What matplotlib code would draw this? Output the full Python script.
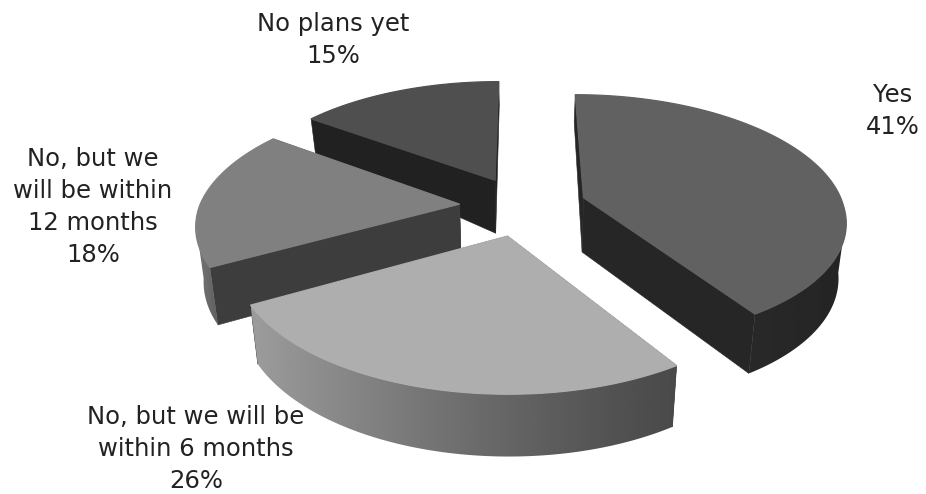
import numpy as np
import matplotlib
matplotlib.use('Agg')
import matplotlib.pyplot as plt
from matplotlib.patches import Polygon

labels = ['Yes', 'No, but we will be\nwithin 6 months', 'No, but we\nwill be within\n12 months', 'No plans yet']
values = [41, 26, 18, 15]

# colours of the slices: top face, flat side, curved side (light end, dark end)
top_colors = ['#616161', '#aeaeae', '#808080', '#4f4f4f']
side_colors = ['#262626', '#2e2e2e', '#3d3d3d', '#212121']
arc_light = [0x29, 0x9c, 0x78, 0x2a]
arc_dark = [0x25, 0x4a, 0x60, 0x24]
label_pos = [(893, 111), (196, 449), (93, 207), (333, 40)]

# pie projection
cx, cy = 523, 206
rx, ry = 260, 122
persp = 0.16
depth_persp = 0.024
explode = 0.245
front_lean = 4


def wall(v):
    return 56 + 30 * min(v + 0.2, 0)


def project(u, v, bottom=False):
    lean = front_lean * max(v, 0)
    if bottom:
        s = 1 / (1 - persp * v + depth_persp)
        return cx + lean + rx * u * s, cy + (ry * v + wall(v)) * s
    s = 1 / (1 - persp * v)
    return cx + lean + rx * u * s, cy + ry * v * s


fig = plt.figure(figsize=(9.26, 4.94), dpi=100)
ax = fig.add_axes([0, 0, 1, 1])

total = sum(values)
edges = np.cumsum([0] + values) / total * 2 * np.pi
slices = []
for i in range(len(values)):
    a0, a1 = edges[i], edges[i + 1]
    mid = (a0 + a1) / 2
    slices.append((i, a0, a1, explode * np.sin(mid), -explode * np.cos(mid)))

# back slices first so the front ones cover them
order = 0
for i, a0, a1, du, dv in sorted(slices, key=lambda t: t[4]):
    angles = np.linspace(a0, a1, 160)
    us = du + np.sin(angles)
    vs = dv - np.cos(angles)
    top = [project(u, v) for u, v in zip(us, vs)]
    low = [project(u, v, True) for u, v in zip(us, vs)]
    apex = project(du, dv)
    apex_low = project(du, dv, True)

    # flat sides
    for t, b in ((top[0], low[0]), (top[-1], low[-1])):
        ax.add_patch(Polygon([apex, t, b, apex_low], facecolor=side_colors[i],
                             edgecolor=side_colors[i], lw=0.4, zorder=order))

    # curved side, only the part turned towards the viewer, shaded from left to right
    front = [k for k in range(len(angles)) if -np.cos(angles[k]) > 0.15]
    if len(front) > 1:
        rim = [top[k] for k in front]
        base = [low[k] for k in front]
        outline = Polygon(rim + base[::-1], facecolor='none', edgecolor='none', zorder=order + 1)
        ax.add_patch(outline)
        xs = np.array([p[0] for p in rim + base])
        ys = np.array([p[1] for p in rim + base])
        ramp = np.linspace(1, 0, 256) ** 1.2
        gray = (arc_dark[i] + (arc_light[i] - arc_dark[i]) * ramp) / 255
        im = ax.imshow(gray[np.newaxis, :], extent=(xs.min(), xs.max(), ys.max(), ys.min()),
                       cmap='gray', vmin=0, vmax=1, aspect='auto', zorder=order + 1)
        im.set_clip_path(outline)

    ax.add_patch(Polygon([apex] + top, facecolor=top_colors[i],
                         edgecolor=top_colors[i], lw=0.9, zorder=order + 2))
    order += 3

for i in range(len(values)):
    ax.text(label_pos[i][0], label_pos[i][1], f'{labels[i]}\n{values[i]}%',
            ha='center', va='center', fontsize=17.5, color='#222222',
            family='DejaVu Sans', linespacing=1.41, zorder=order)

ax.set_xlim(0, 926)
ax.set_ylim(494, 0)
ax.axis('off')

plt.savefig('out.png', dpi=100)
